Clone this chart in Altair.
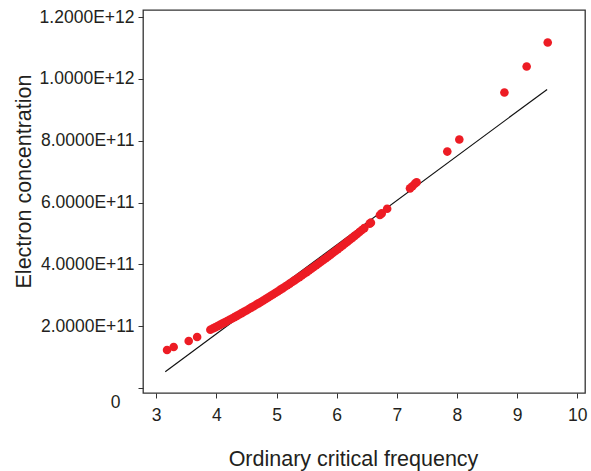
import altair as alt
import pandas as pd

# Ordinary critical frequency (MHz) and electron concentration readings
freq = [3.18, 3.29, 3.54, 3.68,
        3.90, 3.94, 3.98, 4.02, 4.06, 4.10, 4.14, 4.18, 4.22, 4.26, 4.30, 4.34,
        4.38, 4.42, 4.46, 4.50, 4.54, 4.58, 4.62, 4.66, 4.70, 4.74, 4.78, 4.82,
        4.86, 4.90, 4.94, 4.98, 5.02, 5.06, 5.10, 5.14, 5.18, 5.22, 5.26, 5.30,
        5.34, 5.38, 5.42, 5.46, 5.50, 5.54, 5.58, 5.62, 5.66, 5.70, 5.74, 5.78,
        5.82, 5.86, 5.90, 5.94, 5.98, 6.02, 6.06, 6.10, 6.14, 6.18, 6.22, 6.26,
        6.30, 6.34, 6.38, 6.42, 6.46,
        6.55, 6.57, 6.72, 6.75, 6.84,
        7.22, 7.26, 7.30, 7.33,
        7.84, 8.04, 8.79, 9.16, 9.51]
conc = [1.23e11, 1.33e11, 1.52e11, 1.65e11,
        1.886e11, 1.925e11, 1.964e11, 2.004e11, 2.044e11, 2.084e11, 2.125e11, 2.167e11,
        2.208e11, 2.250e11, 2.293e11, 2.336e11, 2.379e11, 2.423e11, 2.467e11, 2.511e11,
        2.556e11, 2.601e11, 2.647e11, 2.693e11, 2.739e11, 2.786e11, 2.833e11, 2.881e11,
        2.929e11, 2.977e11, 3.026e11, 3.075e11, 3.125e11, 3.175e11, 3.225e11, 3.276e11,
        3.327e11, 3.379e11, 3.431e11, 3.483e11, 3.536e11, 3.589e11, 3.643e11, 3.697e11,
        3.751e11, 3.806e11, 3.861e11, 3.916e11, 3.972e11, 4.029e11, 4.086e11, 4.143e11,
        4.200e11, 4.258e11, 4.316e11, 4.375e11, 4.434e11, 4.494e11, 4.554e11, 4.614e11,
        4.675e11, 4.736e11, 4.797e11, 4.859e11, 4.922e11, 4.984e11, 5.047e11, 5.111e11,
        5.175e11,
        5.32e11, 5.35e11, 5.60e11, 5.65e11, 5.80e11,
        6.46e11, 6.53e11, 6.61e11, 6.66e11,
        7.65e11, 8.04e11, 9.56e11, 1.040e12, 1.118e12]

# Fitted straight line end points
fit_x = [3.15, 9.50]
fit_y = [0.53e11, 9.66e11]

x_ticks = [3, 4, 5, 6, 7, 8, 9, 10]
y_ticks = [0, 2e11, 4e11, 6e11, 8e11, 1.0e12, 1.2e12]

pts = pd.DataFrame({"f": freq, "n": conc})
fit = pd.DataFrame({"f": fit_x, "n": fit_y})

FONT = "Liberation Sans"
TXT = "#231f20"

xscale = alt.Scale(domain=[2.78, 10.13], nice=False, zero=False)
yscale = alt.Scale(domain=[-1.6e10, 1.223e12], nice=False, zero=False)

xaxis = alt.Axis(values=x_ticks, title="Ordinary critical frequency", grid=False,
                 domain=False, tickSize=5, tickColor="#333333", labelPadding=8,
                 format="d",
                 labelFontSize=17.5, labelFont=FONT, labelColor=TXT,
                 titleFontSize=21.5, titleFont=FONT, titleColor=TXT,
                 titleFontWeight="normal", titleX=210, titleY=72,
                 titleBaseline="alphabetic", titleAlign="center")
yaxis = alt.Axis(values=y_ticks, title="Electron concentration", grid=False,
                 domain=False, tickSize=5, tickColor="#333333",
                 labelExpr="datum.value == 0 ? '0' : replace(format(datum.value, '.4e'), 'e', 'E')",
                 labelPadding={"condition": {"test": "datum.value === 0", "value": 18}, "value": 4},
                 labelOffset={"condition": {"test": "datum.value === 0", "value": 14}, "value": 0},
                 labelFontSize=17.5, labelFont=FONT, labelColor=TXT,
                 titleFontSize=21.5, titleFont=FONT, titleColor=TXT,
                 titleFontWeight="normal", titleX=-113, titleY=171,
                 titleBaseline="alphabetic", titleAlign="center", titleAngle=-90)

points = alt.Chart(pts).mark_circle(size=74, color="#ed1c24", opacity=1).encode(
    x=alt.X("f:Q", scale=xscale, axis=xaxis),
    y=alt.Y("n:Q", scale=yscale, axis=yaxis),
)
line = alt.Chart(fit).mark_line(color="#111111", strokeWidth=1.2).encode(
    x=alt.X("f:Q", scale=xscale),
    y=alt.Y("n:Q", scale=yscale),
)

chart = alt.layer(line, points).properties(
    width=442, height=383,
    autosize=alt.AutoSizeParams(type="none"),
    padding={"left": 143, "top": 10, "right": 6, "bottom": 78},
    background="white",
).configure_view(stroke="#333333", strokeWidth=1.3)

chart.save("out.html", embed_options={"renderer": "svg", "actions": False})
